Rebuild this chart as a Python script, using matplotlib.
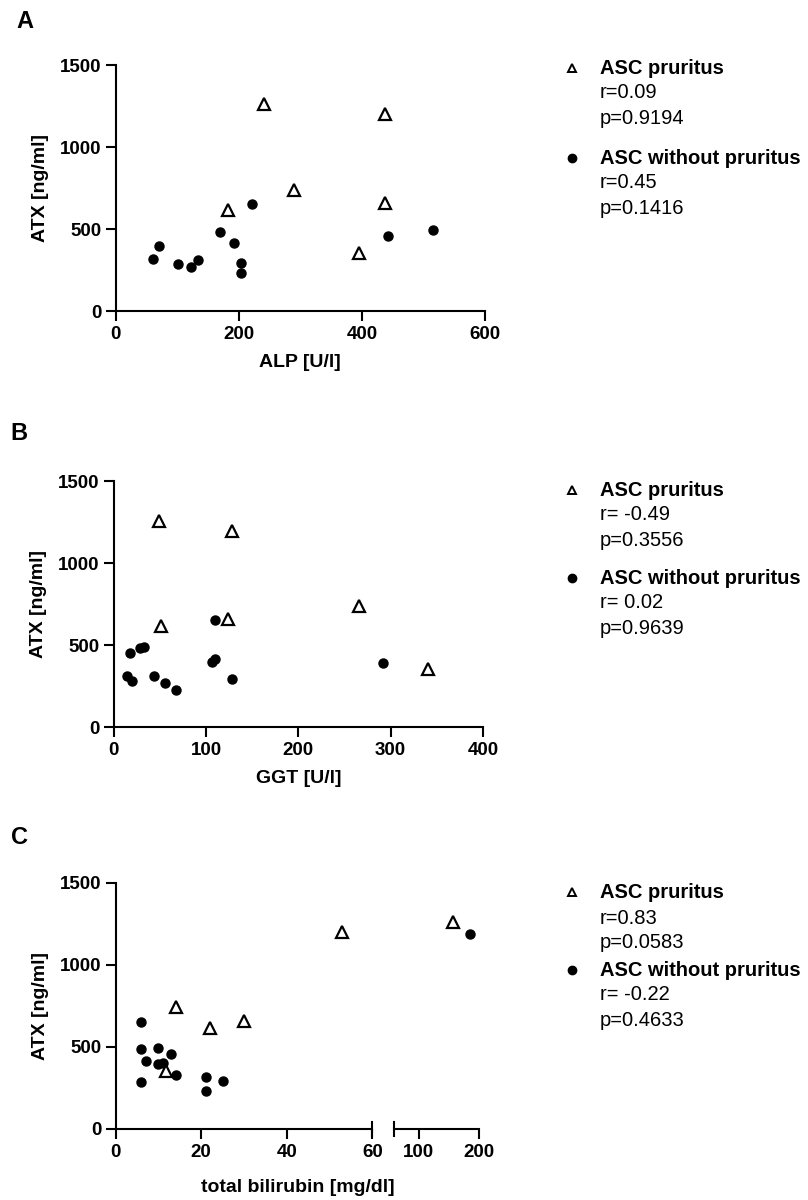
import matplotlib.pyplot as plt
from matplotlib.lines import Line2D

plt.rcParams['font.family'] = ['Liberation Sans', 'DejaVu Sans']

# panel A: ALP
alp_pru_x = [241, 438, 289, 183, 437, 396]
alp_pru_y = [1260, 1199, 738, 616, 660, 356]
alp_no_x = [61, 71, 101, 122, 133, 169, 193, 203, 203, 222, 442, 515]
alp_no_y = [317, 398, 285, 270, 311, 484, 415, 293, 230, 652, 455, 494]

# panel B: GGT
ggt_pru_x = [49, 128, 51, 124, 266, 340]
ggt_pru_y = [1258, 1195, 616, 656, 738, 352]
ggt_no_x = [14, 20, 18, 29, 33, 44, 56, 68, 106, 110, 110, 128, 292]
ggt_no_y = [313, 283, 453, 484, 490, 313, 270, 228, 398, 413, 650, 291, 390]

# panel C: total bilirubin
bil_pru_x = [53, 156, 14, 22.1, 30, 11.8]
bil_pru_y = [1197, 1258, 740, 612, 659, 352]
bil_no_x = [6.0, 6.0, 7.0, 10, 9.9, 11.1, 13, 14.1, 6.0, 21.1, 21.1, 25.1, 185]
bil_no_y = [652, 484, 413, 494, 392, 400, 455, 325, 283, 315, 230, 293, 1187]

panel_letters = ["A", "B", "C"]
xlabels = ["ALP [U/l]", "GGT [U/l]", "total bilirubin [mg/dl]"]
legend_stats = [
    ["r=0.09", "p=0.9194", "r=0.45", "p=0.1416"],
    ["r= -0.49", "p=0.3556", "r= 0.02", "p=0.9639"],
    ["r=0.83", "p=0.0583", "r= -0.22", "p=0.4633"],
]

W, H = 808, 1200
fig = plt.figure(figsize=(W / 100, H / 100), dpi=100)


def add_ax(l, r, t, b):
    return fig.add_axes([l / W, 1 - b / H, (r - l) / W, (b - t) / H])


def style(ax):
    for s in ["top", "right"]:
        ax.spines[s].set_visible(False)
    for s in ["left", "bottom"]:
        ax.spines[s].set_linewidth(1.5)
    ax.tick_params(width=1.5, length=7, labelsize=13.5)
    ax.tick_params(axis="x", pad=4)
    ax.tick_params(axis="y", pad=3)
    for lab in ax.get_xticklabels() + ax.get_yticklabels():
        lab.set_fontweight("bold")


def draw(ax, px, py, nx, ny, lo=None, hi=None):
    def keep(xs, ys):
        pts = [(x, y) for x, y in zip(xs, ys)
               if (lo is None or x >= lo) and (hi is None or x <= hi)]
        return [p[0] for p in pts], [p[1] for p in pts]
    nx, ny = keep(nx, ny)
    px, py = keep(px, py)
    ax.plot(nx, ny, "o", color="black", ms=6.5, ls="none", zorder=3)
    ax.plot(px, py, "^", mfc="white", mec="black", mew=1.6, ms=8, ls="none", zorder=4)


def ylab(ax):
    ax.set_ylabel("ATX [ng/ml]", fontsize=14, fontweight="bold", labelpad=8)


def legend(ys, stats):
    xm, xt = 572 / W, 600 / W
    fig.add_artist(Line2D([xm], [1 - ys[0] / H], marker="^", mfc="white", mec="black",
                          mew=1.4, ms=6, ls="none"))
    fig.add_artist(Line2D([xm], [1 - ys[3] / H], marker="o", color="black", ms=6, ls="none"))
    fig.text(xt, 1 - ys[0] / H, "ASC pruritus", fontsize=14.5, fontweight="bold", va="center")
    fig.text(xt, 1 - ys[1] / H, stats[0], fontsize=14.5, va="center")
    fig.text(xt, 1 - ys[2] / H, stats[1], fontsize=14.5, va="center")
    fig.text(xt, 1 - ys[3] / H, "ASC without pruritus", fontsize=14.5, fontweight="bold", va="center")
    fig.text(xt, 1 - ys[4] / H, stats[2], fontsize=14.5, va="center")
    fig.text(xt, 1 - ys[5] / H, stats[3], fontsize=14.5, va="center")


# A
axA = add_ax(115.7, 485, 65, 311)
draw(axA, alp_pru_x, alp_pru_y, alp_no_x, alp_no_y)
axA.set_xlim(0, 600)
axA.set_ylim(0, 1500)
axA.set_xticks([0, 200, 400, 600])
axA.set_yticks([0, 500, 1000, 1500])
style(axA)
ylab(axA)
axA.set_xlabel(xlabels[0], fontsize=14, fontweight="bold", labelpad=8)
legend([68, 93, 118, 158, 183, 208], legend_stats[0])

# B
axB = add_ax(113.7, 483, 481, 727)
draw(axB, ggt_pru_x, ggt_pru_y, ggt_no_x, ggt_no_y)
axB.set_xlim(0, 400)
axB.set_ylim(0, 1500)
axB.set_xticks([0, 100, 200, 300, 400])
axB.set_yticks([0, 500, 1000, 1500])
style(axB)
ylab(axB)
axB.set_xlabel(xlabels[1], fontsize=14, fontweight="bold", labelpad=8)
legend([490, 515, 540, 578, 603, 628], legend_stats[1])

# C (broken x axis)
axC = add_ax(115.7, 372.3, 882.7, 1128.7)
axC2 = add_ax(394.3, 479.3, 882.7, 1128.7)
draw(axC, bil_pru_x, bil_pru_y, bil_no_x, bil_no_y, hi=60)
draw(axC2, bil_pru_x, bil_pru_y, bil_no_x, bil_no_y, lo=60)
for a in (axC, axC2):
    a.set_ylim(0, 1500)
axC.set_xlim(0, 60)
axC2.set_xlim(60, 200)
axC.set_xticks([0, 20, 40, 60])
axC2.set_xticks([100, 200])
axC.set_yticks([0, 500, 1000, 1500])
style(axC)
style(axC2)
axC2.spines["left"].set_visible(False)
axC2.tick_params(axis="y", left=False, labelleft=False)
ylab(axC)
for a, xb in ((axC, 1), (axC2, 0)):
    a.plot([xb, xb], [-0.028, 0.028], transform=a.transAxes, color="black",
           lw=1.5, clip_on=False)
fig.text((115.7 + 479.3) / 2 / W, 1 - 1187 / H, xlabels[2], fontsize=14,
         fontweight="bold", ha="center", va="center")
legend([892, 918, 942, 970, 995, 1020], legend_stats[2])

for letter, (lx, ly) in zip(panel_letters, [(25, 21), (19, 433), (20, 838)]):
    fig.text(lx / W, 1 - ly / H, letter, fontsize=17, fontweight="bold",
             ha="center", va="center")

fig.savefig("out.png", dpi=100, facecolor="white")
